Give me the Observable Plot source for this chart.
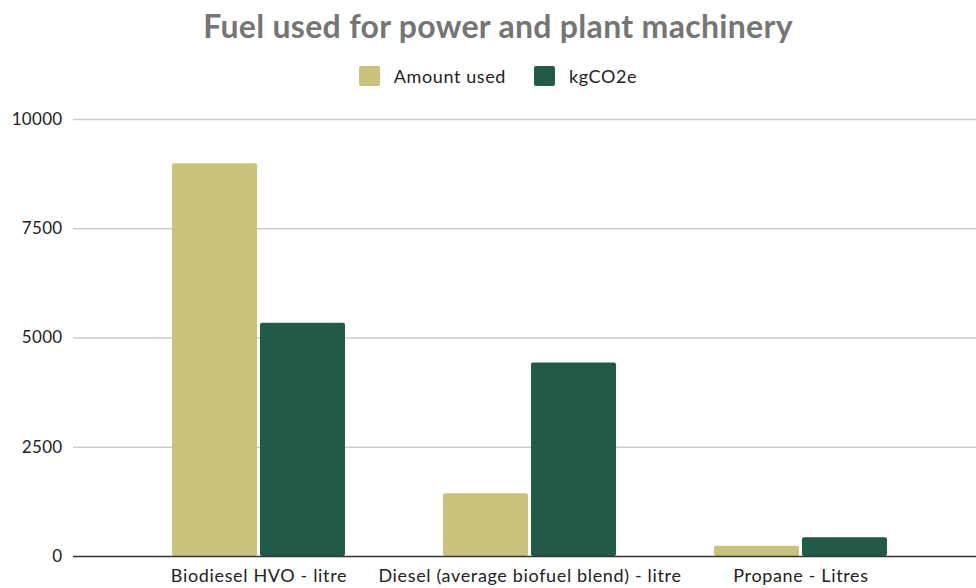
<!DOCTYPE html>
<html>
<head>
<meta charset="utf-8">
<script src="https://cdn.jsdelivr.net/npm/d3@7"></script>
<script src="https://cdn.jsdelivr.net/npm/@observablehq/plot@0.6"></script>
<style>
  body { margin: 0; background: #fff; font-family: Lato, "Open Sans", sans-serif; }
  #wrap { width: 976px; height: 588px; position: relative; overflow: hidden; }
  #title { position: absolute; top: 5px; left: 20px; width: 956px; text-align: center;
           font-size: 32px; font-weight: bold; color: #757575; line-height: 42px; letter-spacing: 0.3px; }
  #legend { position: absolute; top: 65px; left: 20px; width: 956px; display: flex;
            justify-content: center; align-items: center; font-size: 18px; color: #222; letter-spacing: 0.6px; }
  .item { display: flex; align-items: center; margin: 0 14px; }
  .sw { width: 21px; height: 20px; border-radius: 2px; margin-right: 14px; }
  #chart { position: absolute; top: 95px; left: 0; }
  #chart g[aria-label="x-axis tick label"] text { letter-spacing: 0.65px; }
  #chart g[aria-label="y-axis tick label"] text { letter-spacing: 0.3px; }
</style>
</head>
<body>
<div id="wrap">
  <div id="title">Fuel used for power and plant machinery</div>
  <div id="legend"></div>
  <div id="chart"></div>
</div>
<script>
const categories = ["Biodiesel HVO - litre", "Diesel (average biofuel blend) - litre", "Propane - Litres"];
const series = ["Amount used", "kgCO2e"];
const colors = ["#c8c27a", "#215a47"];
const amountUsed = [8985, 1435, 236];
const kgCO2e = [5335, 4430, 428];
const yTicks = [0, 2500, 5000, 7500, 10000];

const rows = categories.map((c, i) => ({category: c, amount: amountUsed[i], co2: kgCO2e[i]}));

const legend = document.getElementById("legend");
series.forEach((s, i) => {
  const it = document.createElement("div");
  it.className = "item";
  it.innerHTML = `<div class="sw" style="background:${colors[i]}"></div><span>${s}</span>`;
  legend.appendChild(it);
});

const chart = Plot.plot({
  width: 976,
  height: 493,
  marginLeft: 73,
  marginRight: 0,
  marginTop: 24,
  marginBottom: 32,
  style: {fontFamily: "Lato, 'Open Sans', sans-serif", fontSize: "17px", color: "#222", background: "transparent"},
  x: {type: "band", domain: categories, insetLeft: 49, insetRight: 40, paddingInner: 0.363, paddingOuter: 0.18, label: null},
  y: {domain: [0, 10000], label: null},
  marks: [
    Plot.ruleY(yTicks.filter(d => d > 0), {stroke: "#cccccc", strokeWidth: 1.3}),
    Plot.barY(rows, {x: "category", y: "amount", fill: colors[0], insetRight: 88, rx: 2}),
    Plot.barY(rows, {x: "category", y: "co2", fill: colors[1], insetLeft: 88, rx: 2}),
    Plot.ruleY([0], {stroke: "#333333", strokeWidth: 1.3}),
    Plot.axisY({ticks: yTicks, tickSize: 0, tickPadding: 11, tickFormat: d => String(d), fontSize: 17}),
    Plot.axisX({tickSize: 0, tickPadding: 13, fontSize: 18})
  ]
});
document.getElementById("chart").appendChild(chart);
</script>
</body>
</html>
